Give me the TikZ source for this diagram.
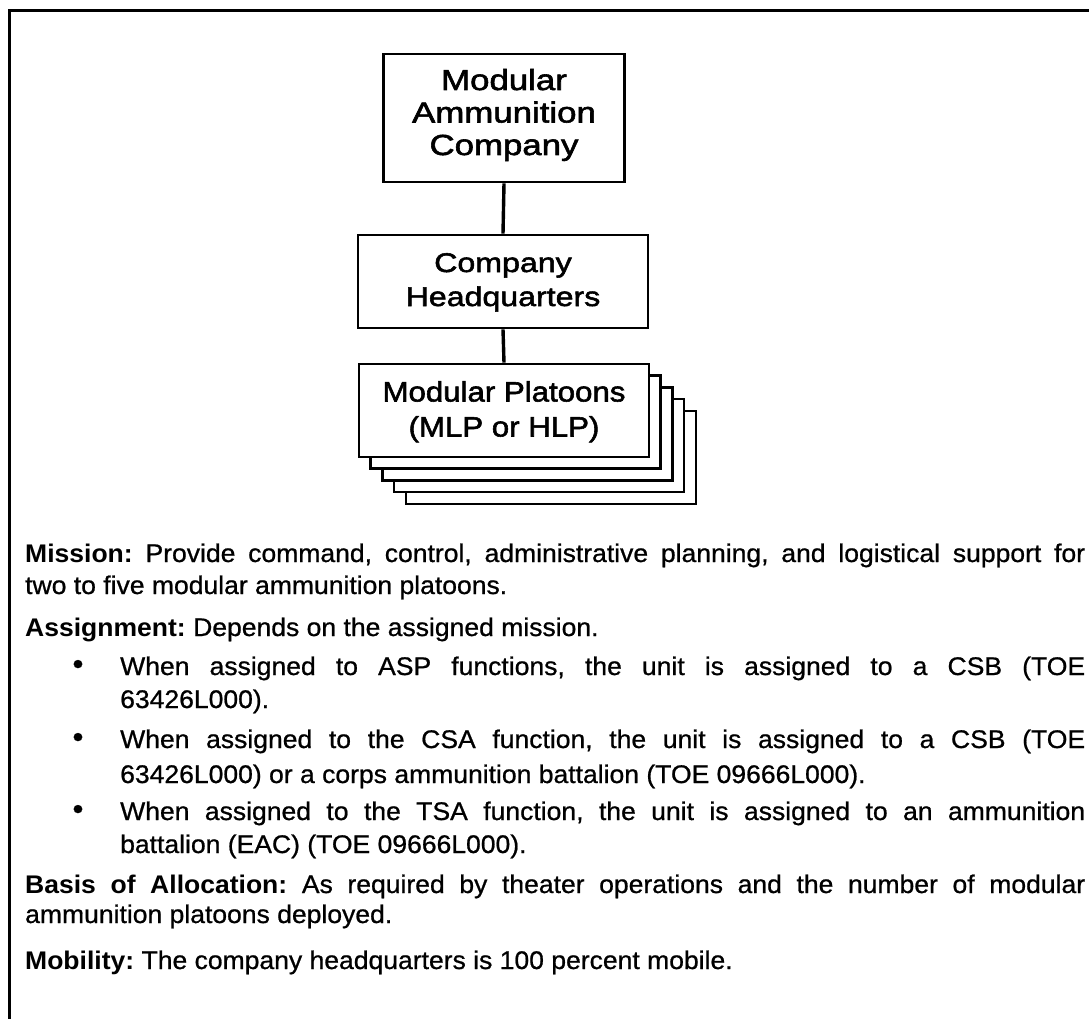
\documentclass[tikz,border=0pt]{standalone}
\usepackage{fontspec}
\setmainfont{Liberation Sans}[FakeStretch=1.04, UprightFeatures={FakeBold=0.8}]
\newfontfamily\boxfont{Liberation Sans}[FakeBold=2]
\frenchspacing
\tikzset{
  orgbox/.style={draw, line width=2.6pt, fill=white, inner sep=0pt, align=center},
  link/.style={line width=3.4pt},
  body/.style={anchor=base west, inner sep=0pt, font=\fontsize{25.5}{32}\selectfont\frenchspacing},
  dot/.style={anchor=center, inner sep=0pt, font=\fontsize{30}{30}\selectfont},
}
\begin{document}
\begin{tikzpicture}[x=1pt,y=-1pt]
\useasboundingbox (0,0) rectangle (1089,1019);
\draw[line width=3pt, line join=miter] (1089,10.5) -- (9.5,10.5) -- (9.5,1019);

% organisation chart
\node[orgbox, minimum width=241pt, minimum height=128pt, text height=80pt, text depth=6pt,
      font=\boxfont\fontsize{29}{32.5}\selectfont] (mac) at (504,118)
      {\addfontfeature{FakeStretch=1.2}Modular\\\addfontfeature{FakeStretch=1.2}Ammunition\\\addfontfeature{FakeStretch=1.2}Company};
\node[orgbox, minimum width=290pt, minimum height=93pt, text height=55pt, text depth=6pt,
      font=\boxfont\fontsize{27}{34}\selectfont] (hq) at (503,281.5)
      {\addfontfeature{FakeStretch=1.19}Company\\\addfontfeature{FakeStretch=1.19}Headquarters};
\foreach \i in {4,3,2,1}{
  \node[orgbox, minimum width=290pt, minimum height=93pt] (plt\i) at (504+\i*11.7,410.5+\i*11.7) {};
}
\node[orgbox, minimum width=290pt, minimum height=93pt, text height=58pt, text depth=6pt,
      font=\boxfont\fontsize{28}{35}\selectfont] (plt) at (504,410.5)
      {\addfontfeature{FakeStretch=1.115}Modular Platoons\\\addfontfeature{FakeStretch=1.115}(MLP or HLP)};
\draw[link] (mac.south) -- (hq.north);
\draw[link] (hq.south) -- (plt.north);

% text
\node[body] (m1) at (25,562) {\makebox[1060pt][s]{\textbf{Mission:} Provide command, control, administrative planning, and logistical support for}};
\node[body] (m2) at (25,594) {two to five modular ammunition platoons.};
\node[body] (a1) at (25,636) {\textbf{Assignment:} Depends on the assigned mission.};
\node[dot] (d1) at (78,667) {\textbullet};
\node[body] (b11) at (120,675) {\makebox[965pt][s]{When assigned to ASP functions, the unit is assigned to a CSB (TOE}};
\node[body] (b12) at (120,708) {63426L000).};
\node[dot] (d2) at (78,740) {\textbullet};
\node[body] (b21) at (120,748) {\makebox[965pt][s]{When assigned to the CSA function, the unit is assigned to a CSB (TOE}};
\node[body] (b22) at (120,783) {63426L000) or a corps ammunition battalion (TOE 09666L000).};
\node[dot] (d3) at (78,812) {\textbullet};
\node[body] (b31) at (120,820) {\makebox[965pt][s]{When assigned to the TSA function, the unit is assigned to an ammunition}};
\node[body] (b32) at (120,853) {battalion (EAC) (TOE 09666L000).};
\node[body] (ba1) at (25,893) {\makebox[1060pt][s]{\textbf{Basis of Allocation:} As required by theater operations and the number of modular}};
\node[body] (ba2) at (25,923) {ammunition platoons deployed.};
\node[body] (mo) at (25,969) {\textbf{Mobility:} The company headquarters is 100 percent mobile.};
\end{tikzpicture}
\end{document}
